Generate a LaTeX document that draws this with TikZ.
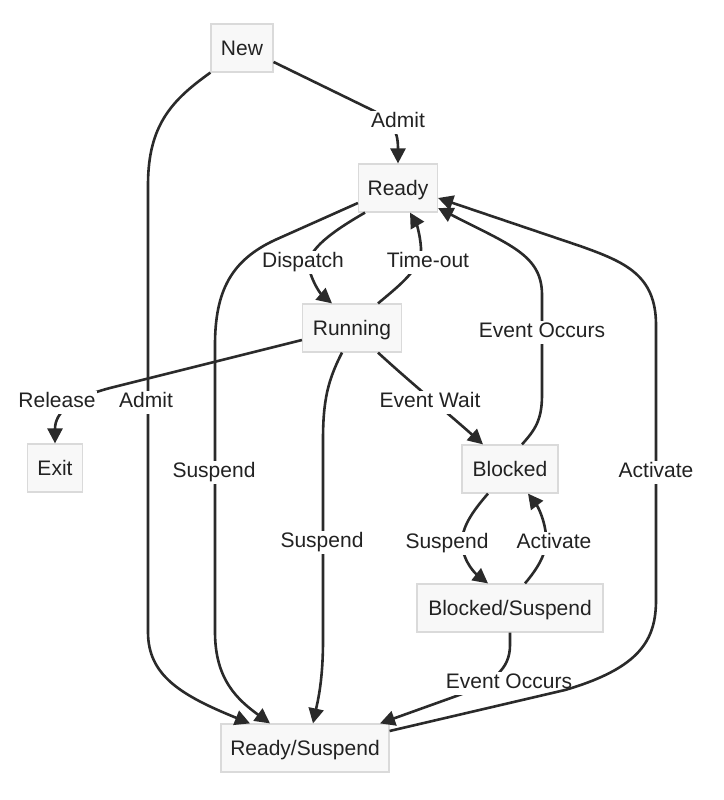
\documentclass[tikz,border=0pt]{standalone}
\usepackage{fontspec}
\setmainfont{Liberation Sans}
\usetikzlibrary{arrows.meta}
\definecolor{edgec}{HTML}{2A2A2A}
\definecolor{nodefill}{HTML}{F8F8F8}
\definecolor{nodeborder}{HTML}{DADADA}
\definecolor{txt}{HTML}{222222}
\tikzset{
  state/.style={draw=nodeborder, fill=nodefill, line width=1.2pt, minimum height=48pt, inner xsep=9pt, inner ysep=0pt, text height=15pt, text depth=0pt, text=txt, font=\fontsize{21pt}{25pt}\selectfont},
  conn/.style={draw=edgec, line width=2.6pt, -{Triangle[length=15pt,width=15pt]}},
  lbl/.style={fill=white, inner xsep=1.5pt, inner ysep=2pt, text height=15pt, text depth=4pt, text=txt, font=\fontsize{21pt}{25pt}\selectfont}
}
\begin{document}
\begin{tikzpicture}[x=1pt,y=-1pt]
\useasboundingbox (0,0) rectangle (723,800);
% nodes
\node[state, minimum width=62pt] (New) at (242,48) {New};
\node[state, minimum width=79pt] (Ready) at (398,188) {Ready};
\node[state, minimum width=99pt] (Running) at (352,328) {Running};
\node[state, minimum width=55pt] (Exit) at (55,468) {Exit};
\node[state, minimum width=96pt] (Blocked) at (510,469) {Blocked};
\node[state, minimum width=186pt] (BS) at (510,608) {Blocked/Suspend};
\node[state, minimum width=168pt] (RS) at (305,748) {Ready/Suspend};

% New -> Ready
\draw[conn] ([yshift=-14pt]New.east) -- (372,110) .. controls (392,120) and (398,130) .. (Ready.north)
  node[lbl] at (398,122) {Admit};
% New -> Ready/Suspend
\draw[conn] (New.south west) .. controls (172,100) and (148,125) .. (148,185) -- (148,632) .. controls (148,675) and (180,695) .. ([xshift=-55pt]RS.north)
  node[lbl] at (146,402) {Admit};
% Ready -> Running
\draw[conn] ([xshift=-33pt]Ready.south) .. controls (335,230) and (305,250) .. (309,268) .. controls (313,285) and (322,295) .. ([xshift=-20pt]Running.north)
  node[lbl] at (303,262) {Dispatch};
% Running -> Ready
\draw[conn] ([xshift=26pt]Running.north) .. controls (400,285) and (422,268) .. (421,248) .. controls (420,233) and (416,223) .. ([xshift=12pt]Ready.south)
  node[lbl] at (428,262) {Time-out};
% Ready -> Ready/Suspend
\draw[conn] ([yshift=-15pt]Ready.west) -- (275,240) .. controls (232,260) and (215,290) .. (215,345) -- (215,632) .. controls (215,680) and (238,700) .. ([xshift=-35pt]RS.north)
  node[lbl] at (214,472) {Suspend};
% Running -> Exit
\draw[conn] ([yshift=-12pt]Running.west) -- (110,388) .. controls (72,398) and (55,412) .. (Exit.north)
  node[lbl] at (57,402) {Release};
% Running -> Blocked
\draw[conn] ([xshift=26pt]Running.south) .. controls (410,382) and (450,415) .. ([xshift=-27pt]Blocked.north)
  node[lbl] at (430,402) {Event Wait};
% Running -> Ready/Suspend
\draw[conn] ([xshift=-10pt]Running.south) .. controls (328,380) and (323,400) .. (323,440) -- (323,640) .. controls (323,680) and (318,700) .. ([xshift=8pt]RS.north)
  node[lbl] at (322,542) {Suspend};
% Blocked -> Ready
\draw[conn] ([xshift=12pt]Blocked.north) .. controls (535,430) and (542,420) .. (542,395) -- (542,295) .. controls (542,255) and (510,245) .. ([yshift=-20pt]Ready.east)
  node[lbl] at (542,332) {Event Occurs};
% Blocked -> Blocked/Suspend
\draw[conn] ([xshift=-22pt]Blocked.south) .. controls (472,512) and (461,528) .. (462,545) .. controls (464,563) and (476,574) .. ([xshift=-22pt]BS.north)
  node[lbl] at (447,543) {Suspend};
% Blocked/Suspend -> Blocked
\draw[conn] ([xshift=15pt]BS.north) .. controls (538,568) and (548,552) .. (546,535) .. controls (544,516) and (536,504) .. ([xshift=18pt]Blocked.south)
  node[lbl] at (554,543) {Activate};
% Blocked/Suspend -> Ready/Suspend
\draw[conn] (BS.south) -- (510,645) .. controls (510,670) and (492,682) .. (462,694) -- ([xshift=75pt]RS.north)
  node[lbl] at (509,683) {Event Occurs};
% Ready/Suspend -> Ready
\draw[conn] ([yshift=17pt]RS.east) -- (565,690) .. controls (640,668) and (656,640) .. (656,600) -- (656,325) .. controls (656,275) and (625,262) .. (580,246) -- ([yshift=-10pt]Ready.east)
  node[lbl] at (656,472) {Activate};
\end{tikzpicture}
\end{document}
